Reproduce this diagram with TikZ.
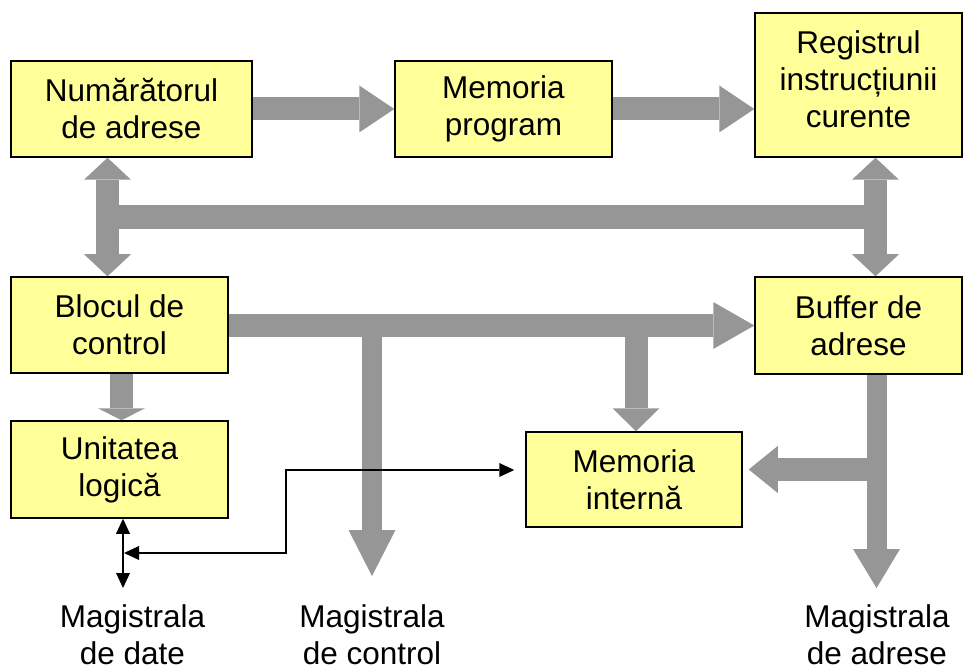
\documentclass[tikz,border=0pt]{standalone}
\usepackage{fontspec}
\setmainfont{Liberation Sans}
\usetikzlibrary{arrows.meta,calc}
\definecolor{boxyellow}{HTML}{FFFF99}
\definecolor{busgray}{HTML}{969696}
\begin{document}
\begin{tikzpicture}[x=1pt,y=-1pt,
  box/.style={draw=black,line width=1.5pt,fill=boxyellow,align=center,inner sep=0pt,
    font=\fontsize{31.5}{37}\selectfont},
  lbl/.style={align=center,inner sep=0pt,font=\fontsize{31.5}{37}\selectfont},
  bus/.style={draw=busgray,line width=#1},
  hd/.style={arrows={-Triangle[width=47pt,length=#1,line width=0pt]}},
  hdd/.style={arrows={Triangle[width=47pt,length=#1,line width=0pt]-Triangle[width=47pt,length=#1,line width=0pt]}},
  wire/.style={draw=black,line width=2pt},
  wtips/.style={arrows={Triangle[width=14pt,length=15pt,line width=0pt]-Triangle[width=14pt,length=15pt,line width=0pt]}}
]
\useasboundingbox (0,0) rectangle (964,668);
\fill[white] (0,0) rectangle (964,668);

% boxes
\node[box,minimum width=241pt,minimum height=96pt] (num) at (131.5,109) {Numărătorul\\de adrese};
\node[box,minimum width=217pt,minimum height=96pt] (mprog) at (503.5,109) {Memoria\\program};
\node[box,minimum width=207pt,minimum height=144pt] (reg) at (858.5,85) {Registrul\\instrucțiunii\\curente\\[-25pt]\mbox{}};
\node[box,minimum width=217pt,minimum height=96pt] (bloc) at (119.5,325) {Blocul de\\control};
\node[box,minimum width=207pt,minimum height=97pt] (buf) at (858.5,325.5) {Buffer de\\adrese};
\node[box,minimum width=217pt,minimum height=97pt] (unit) at (119.5,469.5) {Unitatea\\logică};
\node[box,minimum width=216pt,minimum height=95pt] (mint) at (634,479.5) {Memoria\\internă};

% labels
\node[lbl] (mdate) at (132.5,635) {Magistrala\\de date};
\node[lbl] (mctrl) at (372,635) {Magistrala\\de control};
\node[lbl] (madr) at (877,635) {Magistrala\\de adrese};

% helper coordinates
\coordinate (lb) at (107.5,217);
\coordinate (rb) at (875.5,217);
\coordinate (cb) at (372,325.5);
\coordinate (mb) at (636,325.5);
\coordinate (ctip) at (372,576);
\coordinate (bu) at (121.5,400);
\coordinate (ab) at (876.5,469.5);
\coordinate (atip) at (876.5,588);
\coordinate (dv) at (123,553);
\coordinate (dtip) at (123,588);
\coordinate (jn) at (286,553);
\coordinate (jt) at (286,470);

% gray buses
\draw[bus=23pt,hd=35pt] (num.east) -- (mprog.west);
\draw[bus=23pt,hd=35pt] (mprog.east) -- (mprog.east -| reg.west);
\draw[bus=23pt,hdd=22pt] (lb |- num.south) -- (lb |- bloc.north);
\draw[bus=23pt,hdd=22pt] (rb |- reg.south) -- (rb |- buf.north);
\draw[bus=24pt] (lb) -- (rb);
\draw[bus=23pt,hd=41pt] (bloc.east |- cb) -- (cb -| buf.west);
\draw[bus=20pt,hd=46pt] (cb) -- (ctip);
\draw[bus=23pt,hd=23pt] (mb) -- (mb |- mint.north);
\draw[bus=23pt,hd=12pt] (bu |- bloc.south) -- (bu |- unit.north);
\draw[bus=20pt,hd=39pt] (ab |- buf.south) -- (atip);
\draw[bus=23pt,hd=29pt] (ab) -- ([xshift=6pt]ab -| mint.east);

% thin data lines
\draw[wire,wtips] (dv |- unit.south) -- (dtip);
\draw[wire,wtips,shorten >=11pt] ([xshift=1pt]dv) -- (jn) -- (jt) -- (jt -| mint.west);
\end{tikzpicture}
\end{document}
